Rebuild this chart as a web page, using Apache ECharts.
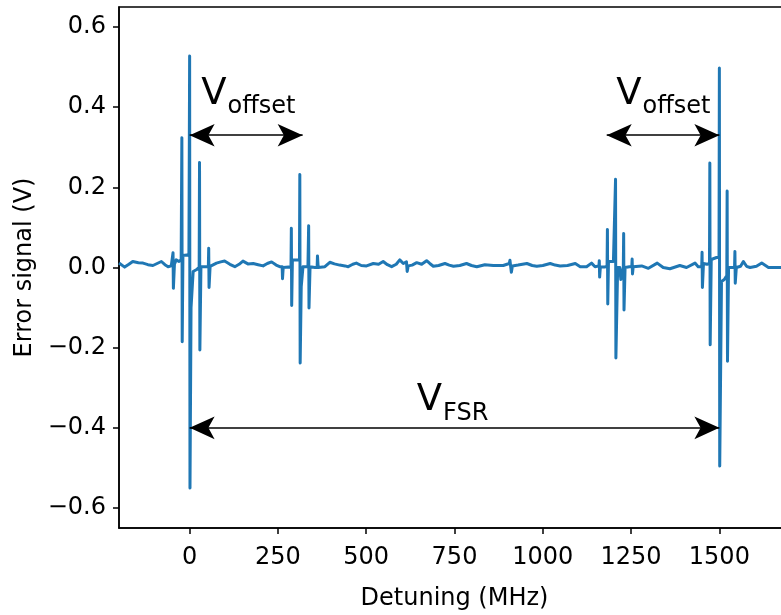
<!DOCTYPE html>
<html><head><meta charset="utf-8">
<script src="https://cdn.jsdelivr.net/npm/echarts@6/dist/echarts.min.js"></script>
<style>html,body{margin:0;padding:0;background:#fff}#c{width:781px;height:615px}</style>
</head><body><div id="c"></div>
<script>
// Detuning (MHz) and error signal (V)
const detuning = [-200,-184,-172,-161,-145,-132,-118,-104,-92,-80,-70,-61,-52,-48,-47,-46,-43,-38,-30,-24,-22,-21,-19,-8,-2,0,1,4,10,20,27,28,29,32,45,53,54,55,58,62,76,88,99,114,128,140,151,165,180,194,208,220,232,245,
255,262,263,265,280,287,288,289,291,305,311,312,313,316,321,335,337,338,341,355,361,362,364,383,397,410,425,440,449,462,472,486,501,520,535,548,560,572,585,595,605,614,616,619,630,643,657,671,680,690,705,723,735,747,765,784,798,813,836,860,888,905,907,911,914,930,955,970,983,1000,1021,1035,1049,1070,1092,1106,1124,1138,1148,
1159,1160,1161,1163,1175,1182,1183,1184,1186,1200,1205,1206,1207,1212,1218,1221,1228,1229,1230,1233,1245,1252,1253,1254,1256,1261,1280,1299,1324,1341,1360,1388,1407,1431,1440,1450,
1451,1452,1455,1465,1472,1473,1474,1477,1492,1499,1500,1501,1506,1514,1521,1522,1523,1526,1543,1544,1545,1548,1560,1568,1577,1587,1605,1620,1639,1672,1700];
const signal = [0.011,0.001,0.008,0.015,0.012,0.011,0.007,0.005,0.010,0.015,0.007,0.002,0.004,0.004,0.037,-0.052,0.008,0.019,0.015,0.020,0.324,-0.185,0.030,0.031,0.030,0.528,-0.550,-0.100,-0.010,-0.005,0.000,0.262,-0.206,0.002,0.002,0.002,0.048,-0.050,0.003,0.003,0.011,0.014,0.016,0.008,0.002,0.008,0.016,0.009,0.010,0.007,0.004,0.010,0.014,0.006,
0.002,0.002,-0.028,0.000,0.001,0.000,0.098,-0.095,0.019,0.019,0.019,0.232,-0.238,-0.048,0.002,0.002,0.104,-0.101,0.002,0.000,0.000,0.029,0.000,0.002,0.013,0.009,0.006,0.004,0.002,0.008,0.011,0.005,0.004,0.010,0.008,0.015,0.007,0.002,0.008,0.019,0.010,0.014,-0.010,0.004,0.006,0.012,0.008,0.017,0.010,0.003,0.005,0.010,0.006,0.003,0.005,0.010,0.005,0.002,0.007,0.005,0.005,0.010,0.018,-0.012,0.004,0.006,0.010,0.005,0.003,0.005,0.010,0.006,0.004,0.005,0.010,0.002,0.002,0.011,0.002,
0.004,0.017,-0.024,0.001,0.001,0.003,0.095,-0.091,0.015,0.015,0.015,0.220,-0.226,0.000,0.000,-0.030,0.000,0.085,-0.106,0.000,0.002,0.002,0.021,-0.016,0.002,0.002,0.004,-0.002,0.011,0.000,-0.003,0.005,0.000,0.011,0.002,0.002,
0.038,-0.050,0.010,0.008,0.010,0.261,-0.193,0.020,0.025,0.025,0.498,-0.495,-0.035,-0.030,-0.020,0.191,-0.234,0.000,0.000,0.040,-0.039,0.000,0.003,0.015,0.003,0.000,0.003,0.011,0.000,0.000,0.000];

const xTicks = [0, 250, 500, 750, 1000, 1250, 1500];
const yTicks = [-0.6, -0.4, -0.2, 0.0, 0.2, 0.4, 0.6];
// double-headed arrows: [x1, y1, x2, y2] in data units
const arrowSegments = [[0, 0.33, 320, 0.33], [1181, 0.33, 1500, 0.33], [0, -0.4, 1500, -0.4]];
// annotation text: anchor (left, baseline) in data units
const annoX = [33, 1208, 643];
const annoY = [0.405, 0.405, -0.36];
const annoMain = ['V', 'V', 'V'];
const annoSub = ['offset', 'offset', 'FSR'];

const FONT = '"DejaVu Sans", sans-serif';
const chart = echarts.init(document.getElementById('c'));
const fmtY = v => (v < -1e-9 ? '\u2212' : '') + Math.abs(v).toFixed(1);

chart.setOption({
  animation: false,
  backgroundColor: '#fff',
  grid: { left: 119, top: 7, width: 671, height: 521, show: true, borderColor: '#000', borderWidth: 1.5,
          containLabel: false, outerBoundsMode: 'none' },
  xAxis: {
    type: 'value', min: -200, max: 1700,
    name: 'Detuning (MHz)', nameLocation: 'middle', nameGap: 59,
    nameTextStyle: { fontFamily: FONT, fontSize: 24, color: '#000' },
    axisLine: { show: true, onZero: false, lineStyle: { color: '#000', width: 1.5 } },
    axisTick: { show: true, length: 6, customValues: xTicks, lineStyle: { color: '#000', width: 1.5 } },
    axisLabel: { customValues: xTicks, formatter: v => String(v), fontFamily: FONT, fontSize: 24, color: '#000', margin: 18 },
    splitLine: { show: false }
  },
  yAxis: {
    type: 'value', min: -0.65, max: 0.65,
    name: 'Error signal (V)', nameLocation: 'middle', nameGap: 77, nameRotate: 90,
    nameTextStyle: { fontFamily: FONT, fontSize: 24, color: '#000' },
    axisLine: { show: true, onZero: false, lineStyle: { color: '#000', width: 1.5 } },
    axisTick: { show: true, length: 6, customValues: yTicks, lineStyle: { color: '#000', width: 1.5 } },
    axisLabel: { customValues: yTicks, formatter: fmtY, fontFamily: FONT, fontSize: 24, color: '#000', margin: 13 },
    splitLine: { show: false }
  },
  series: [{
    type: 'line',
    data: detuning.map((x, i) => [x, signal[i]]),
    showSymbol: false, symbol: 'none',
    lineStyle: { color: '#1f77b4', width: 3, join: 'round' },
    itemStyle: { color: '#1f77b4' },
    silent: true, z: 2,
    markLine: {
      silent: true, animation: false,
      symbol: ['arrow', 'arrow'], symbolSize: [17, 25],
      lineStyle: { color: '#000', width: 1.5, type: 'solid' },
      itemStyle: { color: '#000' },
      label: { show: false },
      emphasis: { disabled: true },
      data: arrowSegments.map(s => [{ coord: [s[0], s[1]] }, { coord: [s[2], s[3]] }])
    }
  }]
});

const ctx = document.createElement('canvas').getContext('2d');
const g = [];
annoX.forEach((x, i) => {
  const p = chart.convertToPixel({ gridIndex: 0 }, [x, annoY[i]]);
  ctx.font = '37px ' + FONT;
  const w = ctx.measureText(annoMain[i]).width;
  g.push({ type: 'text', x: p[0], y: p[1] + 7.5, z: 10,
    style: { text: annoMain[i], font: '37px ' + FONT, fill: '#000', align: 'left', textAlign: 'left', verticalAlign: 'bottom', textVerticalAlign: 'bottom' } });
  g.push({ type: 'text', x: p[0] + w + 1, y: p[1] + 10 + 3.6, z: 10,
    style: { text: annoSub[i], font: '24px ' + FONT, fill: '#000', align: 'left', textAlign: 'left', verticalAlign: 'bottom', textVerticalAlign: 'bottom' } });
});
chart.setOption({ graphic: g });
</script></body></html>
